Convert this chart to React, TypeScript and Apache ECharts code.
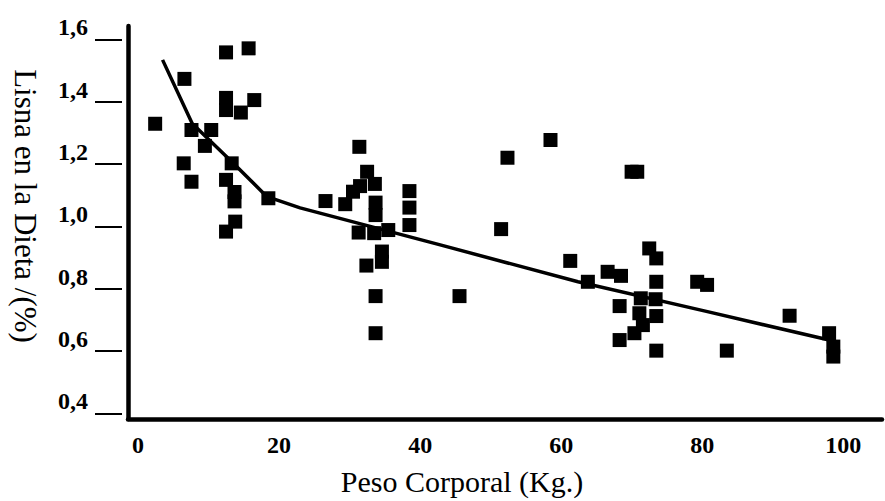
import React, { useEffect, useRef } from "react";
import * as echarts from "echarts";

const FONT = "'Liberation Serif', 'Times New Roman', serif";

const scatterX: number[] = [
  13.9, 17.1, 8.0, 13.9, 13.9, 17.9, 16.0, 3.85, 9.0, 11.8, 10.9, 7.9, 14.7, 9.0, 13.9, 15.1, 15.1, 15.2, 13.9, 19.9,
  32.8, 33.9, 35.0, 32.9, 31.9, 28.0, 30.8, 35.1, 35.1, 32.7, 36.9, 34.9, 39.9, 39.9, 39.9, 36.0, 36.0, 33.8, 35.1, 35.1,
  47.0, 53.8, 59.9, 52.9, 62.7, 71.4, 72.2,
  73.9, 74.9, 68.0, 69.9, 65.2, 74.9, 80.7, 82.1, 72.7, 74.8, 69.7, 72.5, 74.9, 73.0, 71.8, 69.7, 74.9, 84.9, 93.8, 99.4, 100.0, 100.0,
];
const scatterY: number[] = [
  1.558, 1.571, 1.473, 1.412, 1.373, 1.405, 1.365, 1.329, 1.309, 1.309, 1.258, 1.202, 1.202, 1.143, 1.149, 1.11, 1.08, 1.015, 0.983, 1.09,
  1.255, 1.175, 1.136, 1.129, 1.111, 1.081, 1.071, 1.076, 1.036, 0.98, 0.988, 0.978, 1.113, 1.06, 1.004, 0.919, 0.886, 0.874, 0.776, 0.657,
  0.776, 1.22, 1.277, 0.991, 0.889, 1.175, 1.175,
  0.929, 0.897, 0.854, 0.841, 0.822, 0.822, 0.822, 0.812, 0.769, 0.766, 0.744, 0.721, 0.712, 0.683, 0.657, 0.635, 0.601, 0.601, 0.713, 0.657, 0.614, 0.582,
];

const lineX: number[] = [4.9, 9.1, 14.9, 19.7, 24.4, 44.0, 63.8, 82.0, 99.4];
const lineY: number[] = [1.534, 1.33, 1.203, 1.095, 1.059, 0.942, 0.822, 0.727, 0.635];

const xTicks: number[] = [0, 20, 40, 60, 80, 100];
const yTickLabels: string[] = ["0,4", "0,6", "0,8", "1,0", "1,2", "1,4", "1,6"];

const xTitle = "Peso Corporal (Kg.)";
const yTitle = "Lisna en la Dieta /(%)";

export default function App() {
  const ref = useRef<HTMLDivElement>(null);
  useEffect(() => {
    if (!ref.current) return;
    const chart = echarts.init(ref.current, undefined, { renderer: "svg" });
    const scatterData = scatterX.map((x, i) => [x, scatterY[i]]);
    const lineData = lineX.map((x, i) => [x, lineY[i]]);
    chart.setOption({
      animation: false,
      backgroundColor: "#ffffff",
      grid: [
        { left: 128, right: 0, top: 26, bottom: 82 },
        { left: 122, right: 0, top: 39.3, bottom: 87.7 },
      ],
      xAxis: [
        {
          type: "value",
          gridIndex: 0,
          min: 0,
          max: 106.9,
          interval: 20,
          axisLine: { show: true, lineStyle: { color: "#000", width: 4.5 } },
          axisTick: { show: false },
          splitLine: { show: false },
          axisLabel: {
            margin: 14,
            color: "#000",
            fontFamily: FONT,
            fontWeight: "bold",
            fontSize: 24,
            padding: [0, 0, 0, 20],
            formatter: (v: number) => (xTicks.indexOf(v) >= 0 ? String(v) : ""),
          },
        },
        {
          type: "value",
          gridIndex: 1,
          min: 0,
          max: 100,
          show: false,
        },
      ],
      yAxis: [
        {
          type: "value",
          gridIndex: 0,
          min: 0.3817,
          max: 1.6427,
          axisLine: { show: true, lineStyle: { color: "#000", width: 4.5 } },
          axisTick: { show: false },
          axisLabel: { show: false },
          splitLine: { show: false },
        },
        {
          type: "value",
          gridIndex: 1,
          min: 0.4,
          max: 1.6,
          interval: 0.2,
          axisLine: { show: false },
          axisTick: { show: true, length: 27, lineStyle: { color: "#000", width: 2 } },
          splitLine: { show: false },
          axisLabel: {
            margin: 34,
            color: "#000",
            fontFamily: FONT,
            fontWeight: "bold",
            fontSize: 24,
            verticalAlign: "bottom",
            formatter: (v: number) => {
              const idx = Math.round((v - 0.4) / 0.2);
              return yTickLabels[idx] ?? "";
            },
          },
        },
      ],
      series: [
        {
          type: "scatter",
          xAxisIndex: 0,
          yAxisIndex: 0,
          symbol: "rect",
          symbolSize: 14,
          itemStyle: { color: "#000", opacity: 1 },
          data: scatterData,
          z: 3,
        },
        {
          type: "line",
          xAxisIndex: 0,
          yAxisIndex: 0,
          showSymbol: false,
          symbol: "none",
          lineStyle: { color: "#000", width: 3.5 },
          data: lineData,
          z: 4,
        },
      ],
      graphic: [
        {
          type: "text",
          x: 462,
          y: 481,
          style: {
            text: xTitle,
            fontFamily: FONT,
            fontSize: 30,
            fill: "#000",
            align: "center",
            verticalAlign: "middle",
          },
        },
        {
          type: "text",
          x: 25,
          y: 206,
          rotation: -Math.PI / 2,
          style: {
            text: yTitle,
            fontFamily: FONT,
            fontSize: 31,
            fill: "#000",
            align: "center",
            verticalAlign: "middle",
          },
        },
      ],
    });
    return () => chart.dispose();
  }, []);
  return (
    <div
      ref={ref}
      style={{ position: "fixed", left: 0, top: 0, width: 885, height: 501, background: "#fff" }}
    />
  );
}
